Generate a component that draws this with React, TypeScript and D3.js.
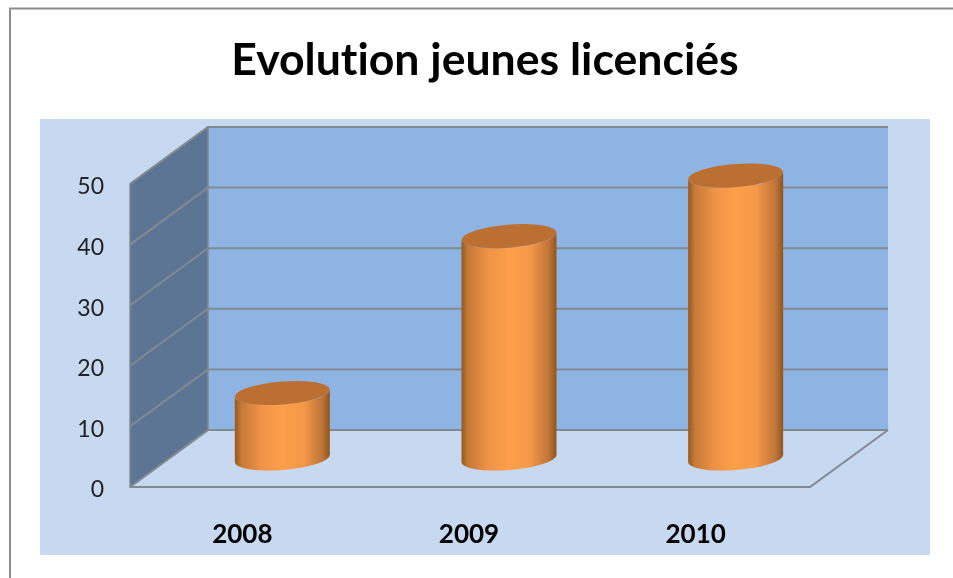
import React from "react";
import * as d3 from "d3";

const title = "Evolution jeunes licenciés";
const years = ["2008", "2009", "2010"];
const licencies = [10.8, 36.7, 46.7];
const yTicks = [0, 10, 20, 30, 40, 50];

const width = 953;
const height = 578;

// back wall, the front of the chart is shifted by depth
const wall = { left: 208, right: 888, top: 127, bottom: 430 };
const depth = { x: -78, y: 57 };

const yScale = d3.scaleLinear().domain([0, 50]).range([wall.bottom, wall.top]);
// bars stand half way between the back wall and the front edge
const xScale = d3
  .scaleBand()
  .domain(years)
  .range([wall.left + depth.x / 2, wall.right + depth.x / 2]);

const barRx = 47.5;
const barRy = 11.5;
const barTilt = -4.5;
const tiltDy = 3.6;

const gridColor = "#838990";
const sans = "Lato, 'Noto Sans', sans-serif";

function cylinderBody(cx: number, yTop: number, yBase: number) {
  const p = d3.path();
  p.moveTo(cx - barRx, yTop + tiltDy);
  p.lineTo(cx - barRx, yBase + tiltDy);
  return (
    p.toString() +
    `A${barRx} ${barRy} ${barTilt} 0 0 ${cx + barRx} ${yBase - tiltDy}` +
    `L${cx + barRx} ${yTop - tiltDy}` +
    `A${barRx} ${barRy} ${barTilt} 0 1 ${cx - barRx} ${yTop + tiltDy}Z`
  );
}

export default function App() {
  const barBase = yScale(0) + depth.y / 2;
  return (
    <svg
      width={width}
      height={height}
      style={{ position: "absolute", left: 0, top: 0, background: "#fff" }}
    >
      <defs>
        <linearGradient id="barFill" x1="0" x2="1" y1="0" y2="0">
          <stop offset="0" stopColor="#96581f" />
          <stop offset="0.07" stopColor="#c67a38" />
          <stop offset="0.28" stopColor="#f09346" />
          <stop offset="0.5" stopColor="#ff9f4a" />
          <stop offset="0.72" stopColor="#f59849" />
          <stop offset="0.92" stopColor="#bf7538" />
          <stop offset="1" stopColor="#8f5520" />
        </linearGradient>
        <filter id="soft" x="-5%" y="-5%" width="110%" height="110%">
          <feGaussianBlur stdDeviation="0.6" />
        </filter>
      </defs>

      <path d="M10 578V8.5H953" fill="none" stroke="#8c8c8c" strokeWidth={2} />

      <g filter="url(#soft)">
        <rect x={40} y={119} width={890} height={436} fill="#c6d9f1" />

        {/* walls */}
        <rect
          x={wall.left}
          y={wall.top}
          width={wall.right - wall.left}
          height={wall.bottom - wall.top}
          fill="#8eb4e3"
        />
        <path
          d={`M${wall.left} ${wall.top}V${wall.bottom}L${wall.left + depth.x} ${
            wall.bottom + depth.y
          }V${wall.top + depth.y}Z`}
          fill="#5b7494"
          stroke={gridColor}
          strokeWidth={1.5}
        />

        {/* grid lines run along the side wall and the back wall */}
        {yTicks.map((t) => (
          <polyline
            key={t}
            points={`${wall.left + depth.x},${yScale(t) + depth.y} ${wall.left},${yScale(t)} ${wall.right},${yScale(t)}`}
            fill="none"
            stroke={gridColor}
            strokeWidth={2}
          />
        ))}

        {/* floor */}
        <path
          d={`M${wall.left + depth.x} ${wall.bottom + depth.y}H${wall.right + depth.x}L${wall.right} ${wall.bottom}`}
          fill="none"
          stroke={gridColor}
          strokeWidth={2}
        />

        {years.map((year, i) => {
          const cx = xScale(year)! + xScale.bandwidth() / 2;
          const yTop = yScale(licencies[i]) + depth.y / 2;
          return (
            <g key={year}>
              <path d={cylinderBody(cx, yTop, barBase)} fill="url(#barFill)" />
              <ellipse
                cx={cx}
                cy={yTop}
                rx={barRx}
                ry={barRy}
                transform={`rotate(${barTilt} ${cx} ${yTop})`}
                fill="#bb7033"
              />
            </g>
          );
        })}

        {yTicks.map((t) => (
          <text
            key={t}
            x={104}
            y={yScale(t) + depth.y + 4.5}
            textAnchor="end"
            dominantBaseline="middle"
            fontFamily={sans}
            fontSize={23}
            fill="#222"
          >
            {t}
          </text>
        ))}

        {years.map((year) => (
          <text
            key={year}
            x={xScale(year)! + xScale.bandwidth() / 2 - 40}
            y={543}
            textAnchor="middle"
            fontFamily={sans}
            fontSize={26}
            fontWeight={700}
            fill="#000"
          >
            {year}
          </text>
        ))}

        <text
          x={485}
          y={74.5}
          textAnchor="middle"
          fontFamily={sans}
          fontSize={44.6}
          fontWeight={700}
          fill="#000"
          style={{ fontVariantLigatures: "none" }}
        >
          {title}
        </text>
      </g>
    </svg>
  );
}
